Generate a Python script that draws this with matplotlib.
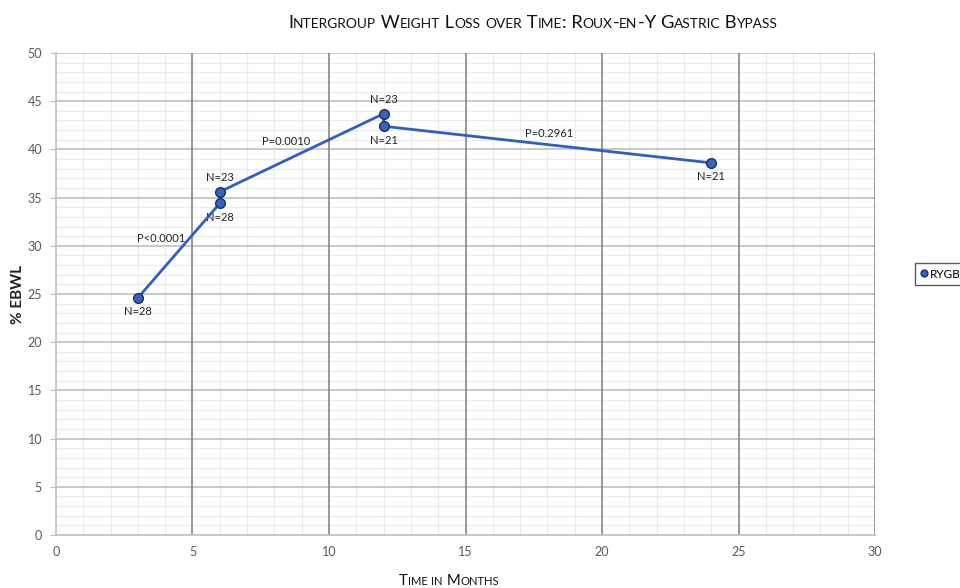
import matplotlib
matplotlib.use('Agg')
import matplotlib.pyplot as plt
from matplotlib.font_manager import FontProperties
from matplotlib.ticker import MultipleLocator

# data
months = [3, 6, 6, 12, 12, 24]
ebwl = [24.6, 34.4, 35.6, 43.7, 42.4, 38.6]
n_labels = ['N=28', 'N=28', 'N=23', 'N=23', 'N=21', 'N=21']
n_above = [False, False, True, True, False, False]
p_labels = ['P<0.0001', 'P=0.0010', 'P=0.2961']
p_x = [3.85, 8.42, 18.06]
p_y = [30.8, 40.8, 41.6]

FONT = 'Lato'
plt.rcParams['font.family'] = [FONT, 'DejaVu Sans']

fig = plt.figure(figsize=(9.6, 5.88), dpi=100)
ax = fig.add_axes([0.0583, 0.0901, 0.8532, 0.8198])

blue = '#2F5FBF'
ax.plot(months, ebwl, color=blue, lw=2, marker='o', ms=7,
        mfc='#3563C0', mec='#1a2f5a', mew=1, label='RYGB', zorder=5)

for x, y, lab, up in zip(months, ebwl, n_labels, n_above):
    ax.annotate(lab, (x, y), xytext=(0, 6 if up else -6), textcoords='offset points',
                ha='center', va='bottom' if up else 'top', fontsize=8, color='#222222')
for lab, x, y in zip(p_labels, p_x, p_y):
    ax.text(x, y, lab, ha='center', va='center', fontsize=8, color='#222222')

ax.set_xlim(0, 30)
ax.set_ylim(0, 50)
ax.xaxis.set_major_locator(MultipleLocator(5))
ax.yaxis.set_major_locator(MultipleLocator(5))
ax.xaxis.set_minor_locator(MultipleLocator(1))
ax.yaxis.set_minor_locator(MultipleLocator(1))
ax.grid(which='minor', color='#ebebeb', lw=0.8)
ax.set_axisbelow(True)
# major grid drawn on top of the minor one so it is not broken
for v in ax.get_yticks():
    if 0 < v <= 50:
        ax.axhline(v, color='#c0c0c0', lw=1.2, zorder=1)
for v in ax.get_xticks():
    if 0 < v <= 30:
        ax.axvline(v, color='#858585', lw=1.2, zorder=1.1)
for s in ['top', 'right']:
    ax.spines[s].set_visible(False)
ax.spines['left'].set_color('#bfbfbf')
ax.spines['bottom'].set_color('#bfbfbf')
ax.spines['left'].set_linewidth(1.2)
ax.spines['bottom'].set_linewidth(1.2)
ax.tick_params(which='major', axis='y', length=4, color='#bfbfbf', labelsize=9, labelcolor='#595959', pad=6)
ax.tick_params(which='major', axis='x', length=0, labelsize=9, labelcolor='#595959', pad=8)
ax.tick_params(which='minor', length=0)

fig.text(18 / 960, 1 - 294 / 588, '% EBWL', rotation=90, ha='center', va='center',
         fontsize=11, fontweight='bold', color='#222222')

leg = ax.legend(loc='center left', bbox_to_anchor=(915 / 960, 1 - 274 / 588),
                bbox_transform=fig.transFigure, fontsize=8.5, frameon=True,
                fancybox=False, handlelength=0.5, handletextpad=0.3,
                borderpad=0.5, borderaxespad=0, markerscale=0.7)
leg.get_frame().set_edgecolor('#333333')
leg.get_frame().set_linewidth(1)
for h in leg.legend_handles:
    h.set_linestyle('none')


def small_caps(s, xc, yb, big, small, color='#111111'):
    # split into runs: lowercase -> small uppercase
    runs = []
    for ch in s:
        sz = small if ch.islower() else big
        if runs and runs[-1][1] == sz:
            runs[-1][0] += ch.upper()
        else:
            runs.append([ch.upper(), sz])
    renderer = fig.canvas.get_renderer()
    widths = []
    for txt, sz in runs:
        w, h, d = renderer.get_text_width_height_descent(txt, FontProperties(family=FONT, size=sz), ismath=False)
        widths.append(w)
    total = sum(widths)
    x = xc - total / 2
    for (txt, sz), w in zip(runs, widths):
        fig.text(x / 960, 1 - yb / 588, txt, fontsize=sz, color=color,
                 ha='left', va='baseline', family=FONT)
        x += w


fig.canvas.draw()
small_caps('Intergroup Weight Loss over Time: Roux-en-Y Gastric Bypass', 533, 28, 13.2, 9.9)
small_caps('Time in Months', 449, 585, 10.8, 8.1)

fig.savefig('out.png', dpi=100)
